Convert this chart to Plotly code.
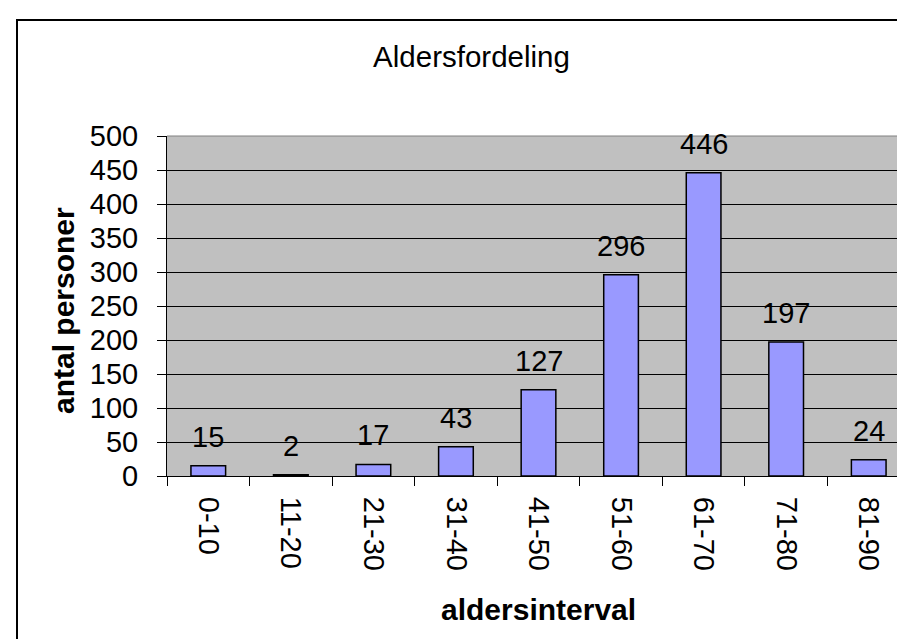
import plotly.graph_objects as go

categories = ["0-10", "11-20", "21-30", "31-40", "41-50", "51-60", "61-70", "71-80", "81-90"]
counts = [15, 2, 17, 43, 127, 296, 446, 197, 24]
y_ticks = [0, 50, 100, 150, 200, 250, 300, 350, 400, 450, 500]

FONT = "Liberation Sans, Arial, sans-serif"
FS = 29
W, H = 905, 639
L, R, T, B = 159, 3, 128, 171
pw, ph = W - L - R, H - T - B

def px_x(px):
    return (px - L) / pw

def px_y(py):
    return (H - B - py) / ph

fig = go.Figure()
fig.add_trace(go.Bar(
    x=categories, y=counts,
    marker=dict(color="#9999FF", line=dict(color="black", width=1.5)),
    showlegend=False,
))

for c, v in zip(categories, counts):
    fig.add_annotation(x=c, y=v, text=str(v), showarrow=False,
                       xanchor="center", yanchor="bottom", yshift=11,
                       font=dict(family=FONT, size=FS, color="black"))

# axis titles
fig.add_annotation(xref="paper", yref="paper", x=0.5, y=px_y(601),
                   text="<b>aldersinterval</b>", showarrow=False,
                   xanchor="center", yanchor="middle",
                   font=dict(family=FONT, size=30, color="black"))
fig.add_annotation(xref="paper", yref="paper", x=px_x(55), y=px_y(303),
                   text="<b>antal personer</b>", showarrow=False, textangle=-90,
                   xanchor="center", yanchor="middle",
                   font=dict(family=FONT, size=30, color="black"))

# outer chart border (extends past the right and bottom edges of the image)
fig.add_shape(type="rect", xref="paper", yref="paper",
              x0=px_x(9), x1=px_x(930), y0=px_y(660), y1=px_y(12),
              line=dict(color="black", width=2), layer="above")
# plot-area border top and right (gray)
fig.add_shape(type="line", xref="paper", yref="paper", x0=0, x1=1, y0=1, y1=1,
              line=dict(color="#808080", width=1), layer="above")
fig.add_shape(type="line", xref="paper", yref="paper", x0=1, x1=1, y0=0, y1=1,
              line=dict(color="#808080", width=1), layer="above")

fig.update_layout(
    width=W, height=H,
    margin=dict(l=L, r=R, t=T, b=B, pad=0),
    paper_bgcolor="white", plot_bgcolor="#C0C0C0",
    bargap=0.58,
    font=dict(family=FONT, size=FS, color="black"),
    title=dict(text="Aldersfordeling", x=463.5 / W, xanchor="center",
               y=1 - 48.7 / H, yanchor="middle",
               font=dict(family=FONT, size=29.5, color="black")),
    xaxis=dict(type="category", categoryorder="array", categoryarray=categories,
               tickangle=90, ticks="outside", ticklen=9, tickcolor="black",
               tickson="boundaries", showline=True, linecolor="black", linewidth=1,
               showgrid=False, ticklabelstandoff=14),
    yaxis=dict(range=[0, 500], tickvals=y_ticks, ticks="outside", ticklen=9,
               tickcolor="black", showline=True, linecolor="black", linewidth=1,
               showgrid=True, gridcolor="black", gridwidth=1, zeroline=False,
               ticklabelstandoff=13),
)

fig.write_html("out.html")
